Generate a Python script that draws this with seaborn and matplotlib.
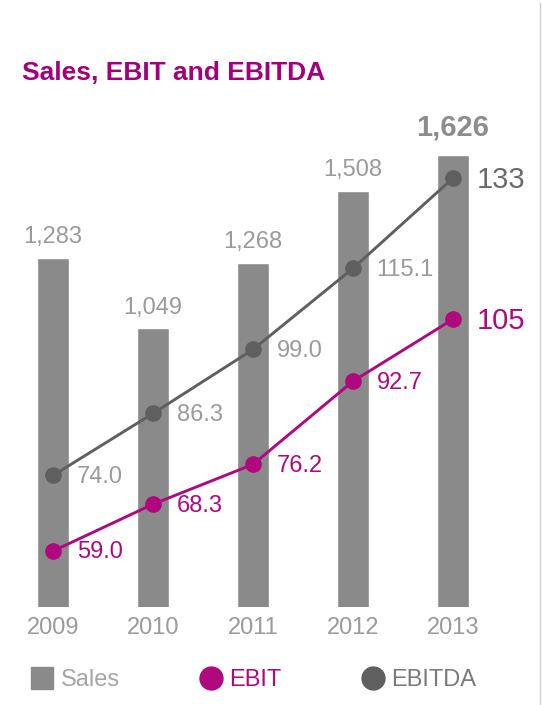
import numpy as np
import pandas as pd
import matplotlib.pyplot as plt
import seaborn as sns
from matplotlib.lines import Line2D

# data
years = ['2009', '2010', '2011', '2012', '2013']
sales = [1283, 1049, 1268, 1508, 1626]
ebit = [59.0, 68.3, 76.2, 92.7, 105]
ebitda = [74.0, 86.3, 99.0, 115.1, 133]
sales_labels = ['1,283', '1,049', '1,268', '1,508', '1,626']
ebit_labels = ['59.0', '68.3', '76.2', '92.7', '105']
ebitda_labels = ['74.0', '86.3', '99.0', '115.1', '133']

df = pd.DataFrame({'Year': years, 'Sales': sales, 'EBIT': ebit, 'EBITDA': ebitda})

sns.set_theme(style='white')
plt.rcParams['font.family'] = ['Liberation Sans', 'DejaVu Sans']

BAR = '#8a8a8a'
MAGENTA = '#b0087f'
DARK = '#5f5f5f'
LABEL = '#9a9a9a'

fig = plt.figure(figsize=(5.42, 7.05), dpi=100)
ax = fig.add_axes([0, 98 / 705, 1, 507 / 705])
sns.barplot(data=df, x='Year', y='Sales', color=BAR, width=0.32,
            saturation=1, ax=ax)

ax2 = ax.twinx()
x = np.arange(len(years))
sns.lineplot(x=x, y=df['EBITDA'], color=DARK, marker='o', markersize=12,
             markeredgewidth=0, linewidth=2.1, ax=ax2)
sns.lineplot(x=x, y=df['EBIT'], color=MAGENTA, marker='o', markersize=12,
             markeredgewidth=0, linewidth=2.1, ax=ax2)

ax.set_xlim(-0.53, 4.89)
ax.set_ylim(120, 1810)
ax2.set_ylim(47.9, 148.5)

for a in (ax, ax2):
    for s in a.spines.values():
        s.set_visible(False)
    a.set_yticks([])
    a.set_ylabel('')
ax.set_xlabel('')
ax.tick_params(axis='x', length=0, pad=7, labelsize=17, labelcolor=LABEL)

# bar value labels
last = len(years) - 1
for i, (v, lbl) in enumerate(zip(sales, sales_labels)):
    if i == last:
        ax.annotate(lbl, (i, v), xytext=(0, 10), textcoords='offset points',
                    ha='center', va='bottom', fontsize=21, weight='bold', color='#8c8c8c')
    else:
        ax.annotate(lbl, (i, v), xytext=(0, 7), textcoords='offset points',
                    ha='center', va='bottom', fontsize=17, color=LABEL)

# line value labels
for vals, lbls, col, last_col in [(ebitda, ebitda_labels, LABEL, '#6a6a6a'),
                                  (ebit, ebit_labels, MAGENTA, MAGENTA)]:
    for i, (v, lbl) in enumerate(zip(vals, lbls)):
        big = i == last
        ax2.annotate(lbl, (i, v), xytext=(17, -1), textcoords='offset points',
                     ha='left', va='center', fontsize=21 if big else 17,
                     color=last_col if big else col)

fig.text(22 / 542, 1 - 73 / 705, 'Sales, EBIT and EBITDA', va='center', ha='left',
         fontsize=19, weight='bold', color='#a4007c')

handles = [Line2D([], [], marker='s', color=BAR, markersize=16.5, linestyle=''),
           Line2D([], [], marker='o', color=MAGENTA, markersize=16.5, linestyle=''),
           Line2D([], [], marker='o', color=DARK, markersize=16.5, linestyle='')]
leg = fig.legend(handles, ['Sales', 'EBIT', 'EBITDA'], ncol=3, loc='center',
                 bbox_to_anchor=(252 / 542, 25 / 705), frameon=False, fontsize=17,
                 handlelength=1.2, handletextpad=0.2, columnspacing=3.25)
for t, c in zip(leg.get_texts(), ['#a5a5a5', MAGENTA, '#7a7a7a']):
    t.set_color(c)

fig.add_artist(Line2D([540 / 542, 540 / 542], [0, 1 - 3 / 705], color='#cfcfcf', lw=1))

plt.savefig('out.png', dpi=100)
